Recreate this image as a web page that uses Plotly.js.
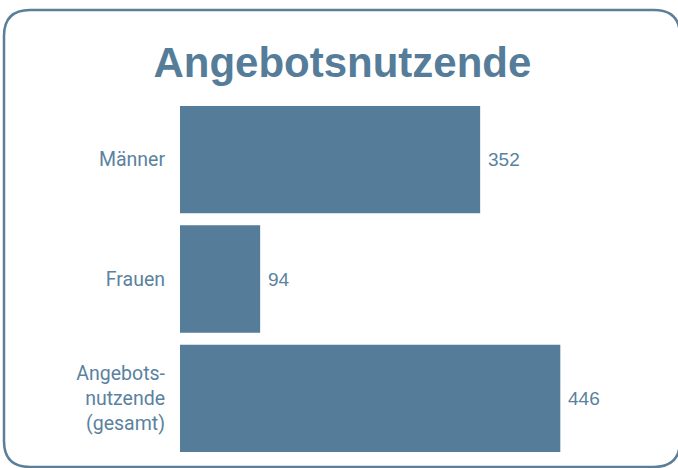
<!DOCTYPE html>
<html>
<head>
<meta charset="utf-8">
<script src="https://cdn.plot.ly/plotly-3.0.1.min.js"></script>
<style>html,body{margin:0;padding:0;background:#fff;}#chart{width:678px;height:468px;}</style>
</head>
<body>
<div id="chart"></div>
<script>
const categories = ["Männer", "Frauen", "Angebots-<br>nutzende<br>(gesamt)"];
const values = [352, 94, 446];
const chartTitle = "Angebotsnutzende";

const W = 678, H = 468;
const M = {l: 180, r: 29, t: 100, b: 10};
const pw = W - M.l - M.r, ph = H - M.t - M.b;
const barColor = "#557d99";
const textColor = "#5a82a0";

// rounded frame in pixel coordinates converted to paper coords
function px(x){ return ((x - M.l) / pw).toFixed(5); }
function py(y){ return ((H - M.b - y) / ph).toFixed(5); }
const x0 = 4, y0 = 10, x1 = 680, y1 = 467, r = 26;
const framePath = "M " + px(x0 + r) + "," + py(y0) +
  " L " + px(x1 - r) + "," + py(y0) +
  " Q " + px(x1) + "," + py(y0) + " " + px(x1) + "," + py(y0 + r) +
  " L " + px(x1) + "," + py(y1 - r) +
  " Q " + px(x1) + "," + py(y1) + " " + px(x1 - r) + "," + py(y1) +
  " L " + px(x0 + r) + "," + py(y1) +
  " Q " + px(x0) + "," + py(y1) + " " + px(x0) + "," + py(y1 - r) +
  " L " + px(x0) + "," + py(y0 + r) +
  " Q " + px(x0) + "," + py(y0) + " " + px(x0 + r) + "," + py(y0) + " Z";

const trace = {
  type: "bar",
  orientation: "h",
  x: values,
  y: categories,
  marker: {color: barColor},
  hoverinfo: "skip",
  cliponaxis: false
};

const annotations = values.map((v, i) => ({
  x: v, y: categories[i], xref: "x", yref: "y",
  text: String(v), showarrow: false, xanchor: "left", yanchor: "middle",
  xshift: 6, font: {family: "Liberation Sans, Arial, sans-serif", size: 19, color: textColor}
}));

const layout = {
  width: W, height: H,
  margin: M,
  paper_bgcolor: "#ffffff",
  plot_bgcolor: "#ffffff",
  showlegend: false,
  bargap: 0.1,
  title: {
    text: "<b>" + chartTitle + "</b>",
    x: 0.505, xanchor: "center",
    y: (H - 62) / H, yanchor: "middle",
    font: {family: "Liberation Sans, Arial, sans-serif", size: 42, color: barColor}
  },
  xaxis: {range: [0, 550], visible: false, fixedrange: true},
  yaxis: {
    autorange: "reversed",
    showgrid: false, zeroline: false, showline: false,
    ticks: "", ticklabelstandoff: 14,
    tickfont: {family: "Roboto, Arial, sans-serif", size: 19.5, color: textColor}
  },
  annotations: annotations,
  shapes: [{
    type: "path", xref: "paper", yref: "paper", path: framePath,
    line: {color: "#5b7f99", width: 2.5}, fillcolor: "rgba(0,0,0,0)", layer: "above"
  }]
};

Plotly.newPlot("chart", [trace], layout, {displayModeBar: false, staticPlot: true});
</script>
</body>
</html>
